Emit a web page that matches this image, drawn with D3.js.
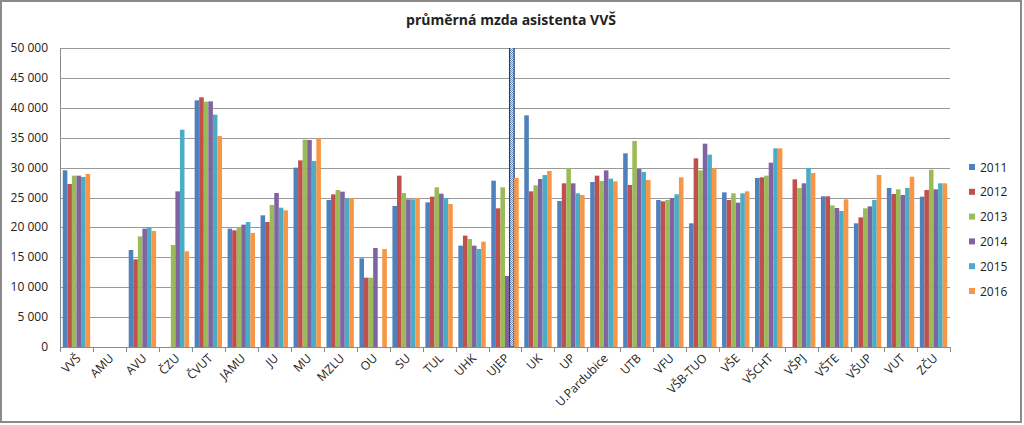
<!DOCTYPE html>
<html><head><meta charset="utf-8">
<script src="https://cdn.jsdelivr.net/npm/d3@7"></script>
<style>
html,body{margin:0;padding:0;background:#fff;}
svg text{font-family:"Open Sans","Liberation Sans",sans-serif;}
</style></head>
<body>
<svg id="c" width="1024" height="425"></svg>
<script>
const categories = ["VVŠ","AMU","AVU","ČZU","ČVUT","JAMU","JU","MU","MZLU","OU","SU","TUL","UHK","UJEP","UK","UP","U.Pardubice","UTB","VFU","VŠB-TUO","VŠE","VŠCHT","VŠPJ","VŠTE","VŠUP","VUT","ZČU"];
const years = ["2011","2012","2013","2014","2015","2016"];
const colors = ["#4F81BD","#C0504D","#9BBB59","#8064A2","#4BACC6","#F79646"];
const s2011 = [29550,null,16220,null,41250,19790,22020,29990,24580,14830,23580,24190,16945,27810,38740,24410,27590,32385,24580,20680,25860,28260,null,25200,20680,26590,25140];
const s2012 = [27260,null,14660,null,41750,19510,20900,31210,25530,11590,28650,25140,18620,23190,26030,27370,28650,27090,24360,31550,24580,28370,28040,25200,21680,25585,26250];
const s2013 = [28650,null,18500,17060,41025,20070,23745,34670,26250,11590,25750,26700,18060,26700,27030,29930,27760,34450,24580,29540,25700,28650,26590,23690,23190,26365,29650];
const s2014 = [28650,null,19790,26030,41080,20460,25750,34615,25975,16555,24690,25640,16945,11870,28090,27370,29540,29765,24915,34000,24135,30820,27370,23245,23520,25420,26365];
const s2015 = [28430,null,19955,36340,38850,20900,23300,31100,24915,null,24690,24915,16390,95000,28760,25700,28150,29265,25530,32160,25700,33220,29930,22740,24580,26590,27370];
const s2016 = [28930,null,19400,16000,35280,19060,22850,34890,24915,16390,24915,23910,17610,28260,29430,25420,27700,27925,28370,29880,26030,33220,29100,24690,28760,28480,27370];
const series = [s2011,s2012,s2013,s2014,s2015,s2016];
const yTicks = [0,5000,10000,15000,20000,25000,30000,35000,40000,45000,50000];
const title = "průměrná mzda asistenta VVŠ";

const svg = d3.select("#c");
// outer chart border
svg.append("rect").attr("x",1).attr("y",1).attr("width",1020).attr("height",421)
  .attr("fill","#fff").attr("stroke","#8a8a8a").attr("stroke-width",2);

const m = {l:60, r:950, t:48, b:347};
const x0 = d3.scaleBand().domain(categories).range([m.l,m.r]).paddingInner(0).paddingOuter(0);
const x1 = d3.scaleBand().domain(years).range([0,x0.bandwidth()]).paddingOuter(0.61).paddingInner(0);
const y = d3.scaleLinear().domain([0,50000]).range([m.b,m.t]);

const defs = svg.append("defs");
defs.append("clipPath").attr("id","clip").append("rect")
  .attr("x",m.l).attr("y",m.t).attr("width",m.r-m.l).attr("height",m.b-m.t);
const pat = defs.append("pattern").attr("id","dots").attr("patternUnits","userSpaceOnUse")
  .attr("width",2).attr("height",2);
pat.append("rect").attr("width",2).attr("height",2).attr("fill","#dbe6f4");
pat.append("rect").attr("width",1).attr("height",1).attr("fill","#6f8fc0");
pat.append("rect").attr("x",1).attr("y",1).attr("width",1).attr("height",1).attr("fill","#6f8fc0");

// gridlines
svg.append("g").selectAll("line").data(yTicks.filter(d=>d>0)).join("line")
  .attr("x1",m.l).attr("x2",m.r).attr("y1",d=>Math.round(y(d))+0.5).attr("y2",d=>Math.round(y(d))+0.5)
  .attr("stroke","#9a9a9a").attr("stroke-width",1);

// y labels
svg.append("g").selectAll("text").data(yTicks).join("text")
  .attr("x",48).attr("y",d=>y(d)+4).attr("text-anchor","end")
  .attr("font-size",12).attr("fill","#222")
  .text(d=>d3.format(",")(d).replace(/,/g," "));

// bars
const gBars = svg.append("g").attr("clip-path","url(#clip)");
categories.forEach((c,ci)=>{
  series.forEach((s,si)=>{
    const v = s[ci];
    if (v==null) return;
    const huge = v>50000;
    gBars.append("rect")
      .attr("x",x0(c)+x1(years[si]))
      .attr("y",y(v))
      .attr("width",x1.bandwidth())
      .attr("height",y(0)-y(v))
      .attr("fill",huge?"url(#dots)":colors[si])
      .attr("stroke",huge?"#1f3f7a":"none")
      .attr("stroke-width",huge?1.2:0);
  });
});

// axes lines
svg.append("line").attr("x1",m.l+0.5).attr("x2",m.l+0.5).attr("y1",m.t).attr("y2",m.b)
  .attr("stroke","#8a8a8a");
svg.append("line").attr("x1",m.l).attr("x2",m.r).attr("y1",m.b+0.5).attr("y2",m.b+0.5)
  .attr("stroke","#8a8a8a");
// x tick marks at category boundaries
const bounds = categories.map(c=>x0(c)).concat([m.r]);
svg.append("g").selectAll("line").data(bounds).join("line")
  .attr("x1",d=>Math.round(d)+0.5).attr("x2",d=>Math.round(d)+0.5)
  .attr("y1",m.b).attr("y2",m.b+5).attr("stroke","#8a8a8a");

// x labels
svg.append("g").selectAll("text").data(categories).join("text")
  .attr("transform",d=>`translate(${x0(d)+x0.bandwidth()/2+5},${m.b+12}) rotate(-45)`)
  .attr("text-anchor","end").attr("font-size",12).attr("fill","#222")
  .text(d=>d);

// title
svg.append("text").attr("x",511).attr("y",25).attr("text-anchor","middle")
  .attr("font-size",14).attr("font-weight","bold").attr("fill","#222").text(title);

// legend
const lg = svg.append("g");
years.forEach((yr,i)=>{
  const yy = 167 + i*24.8;
  lg.append("rect").attr("x",969).attr("y",yy-3).attr("width",6).attr("height",6).attr("fill",colors[i]);
  lg.append("text").attr("x",980).attr("y",yy+4.5).attr("font-size",12).attr("fill","#222").text(yr);
});
</script>
</body></html>
